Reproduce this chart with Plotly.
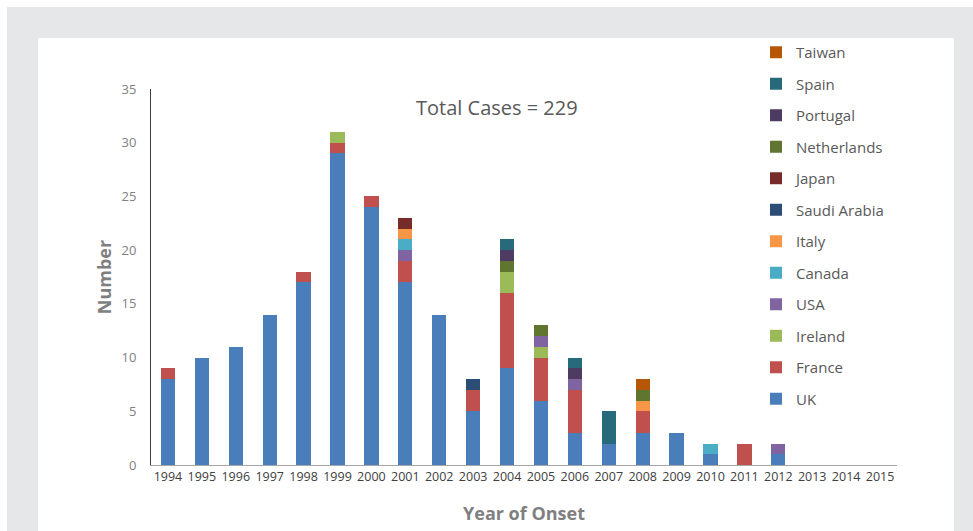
import plotly.graph_objects as go

years = [str(y) for y in range(1994, 2016)]

uk          = [8, 10, 11, 14, 17, 29, 24, 17, 14, 5, 9, 6, 3, 2, 3, 3, 1, 0, 1, 0, 0, 0]
france      = [1, 0, 0, 0, 1, 1, 1, 2, 0, 2, 7, 4, 4, 0, 2, 0, 0, 2, 0, 0, 0, 0]
ireland     = [0, 0, 0, 0, 0, 1, 0, 0, 0, 0, 2, 1, 0, 0, 0, 0, 0, 0, 0, 0, 0, 0]
usa         = [0, 0, 0, 0, 0, 0, 0, 1, 0, 0, 0, 1, 1, 0, 0, 0, 0, 0, 1, 0, 0, 0]
canada      = [0, 0, 0, 0, 0, 0, 0, 1, 0, 0, 0, 0, 0, 0, 0, 0, 1, 0, 0, 0, 0, 0]
italy       = [0, 0, 0, 0, 0, 0, 0, 1, 0, 0, 0, 0, 0, 0, 1, 0, 0, 0, 0, 0, 0, 0]
saudi       = [0, 0, 0, 0, 0, 0, 0, 0, 0, 1, 0, 0, 0, 0, 0, 0, 0, 0, 0, 0, 0, 0]
japan       = [0, 0, 0, 0, 0, 0, 0, 1, 0, 0, 0, 0, 0, 0, 0, 0, 0, 0, 0, 0, 0, 0]
netherlands = [0, 0, 0, 0, 0, 0, 0, 0, 0, 0, 1, 1, 0, 0, 1, 0, 0, 0, 0, 0, 0, 0]
portugal    = [0, 0, 0, 0, 0, 0, 0, 0, 0, 0, 1, 0, 1, 0, 0, 0, 0, 0, 0, 0, 0, 0]
spain       = [0, 0, 0, 0, 0, 0, 0, 0, 0, 0, 1, 0, 1, 3, 0, 0, 0, 0, 0, 0, 0, 0]
taiwan      = [0, 0, 0, 0, 0, 0, 0, 0, 0, 0, 0, 0, 0, 0, 1, 0, 0, 0, 0, 0, 0, 0]

series = [
    ("UK", uk, "#4a7ebb"),
    ("France", france, "#c0504d"),
    ("Ireland", ireland, "#9bbb59"),
    ("USA", usa, "#8064a2"),
    ("Canada", canada, "#4bacc6"),
    ("Italy", italy, "#f79646"),
    ("Saudi Arabia", saudi, "#2c4d75"),
    ("Japan", japan, "#772c2a"),
    ("Netherlands", netherlands, "#5f7530"),
    ("Portugal", portugal, "#4d3b62"),
    ("Spain", spain, "#276a7c"),
    ("Taiwan", taiwan, "#b65708"),
]

total = sum(sum(s[1]) for s in series)

fig = go.Figure()
for i, (name, vals, col) in enumerate(series):
    fig.add_trace(go.Bar(x=years, y=vals, name=name, marker_color=col,
                         marker_line_width=0, legendgroup=name, legendrank=1000 - i))

# pixel geometry of plot area
X0, X1, YB, YT = 151, 897, 465, 89
def px(x):
    return (x - X0) / (X1 - X0)
def py(y):
    return (YB - y) / (YB - YT)

shapes = [
    dict(type="rect", xref="paper", yref="paper", x0=px(7), x1=px(980), y0=py(540), y1=py(7),
         fillcolor="#e6e7e9", line_width=0, layer="below"),
    dict(type="rect", xref="paper", yref="paper", x0=px(38), x1=px(954), y0=py(540), y1=py(38),
         fillcolor="white", line_width=0, layer="below"),
]

fig.update_layout(
    width=973, height=531,
    margin=dict(l=X0, r=973 - X1, t=YT, b=531 - YB, pad=0, autoexpand=False),
    paper_bgcolor="white", plot_bgcolor="rgba(0,0,0,0)",
    barmode="stack", bargap=0.58,
    font=dict(family="Open Sans, Noto Sans, sans-serif", color="#595959"),
    shapes=shapes,
    showlegend=True,
    legend=dict(x=px(756), y=py(36), xanchor="left", yanchor="top",
                traceorder="grouped", tracegroupgap=9, maxheight=520,
                font=dict(size=15, color="#595959"), bgcolor="rgba(0,0,0,0)"),
    annotations=[dict(text=f"Total Cases = {total}", x=px(497), y=py(107), xref="paper", yref="paper",
                      xanchor="center", yanchor="middle",
                      showarrow=False, font=dict(size=20, color="#595959"))],
)
fig.update_xaxes(type="category", showline=True, linecolor="#a6a6a6", linewidth=1, automargin=False,
                 ticks="", tickfont=dict(size=12.5, color="#404040"),
                 title=dict(text="<b>Year of Onset</b>", font=dict(size=18, color="#7f7f7f"), standoff=23))
fig.update_yaxes(range=[0, 35], dtick=5, showgrid=False, zeroline=False, showline=True, automargin=False,
                 linecolor="#404040", linewidth=1, ticks="", ticklabelstandoff=11,
                 tickfont=dict(size=13, color="#7f7f7f"),
                 title=dict(text="<b>Number</b>", font=dict(size=18, color="#7f7f7f"), standoff=5))

fig.write_html("out.html", config={"displayModeBar": False},
               post_script="document.body.style.margin='0';")
